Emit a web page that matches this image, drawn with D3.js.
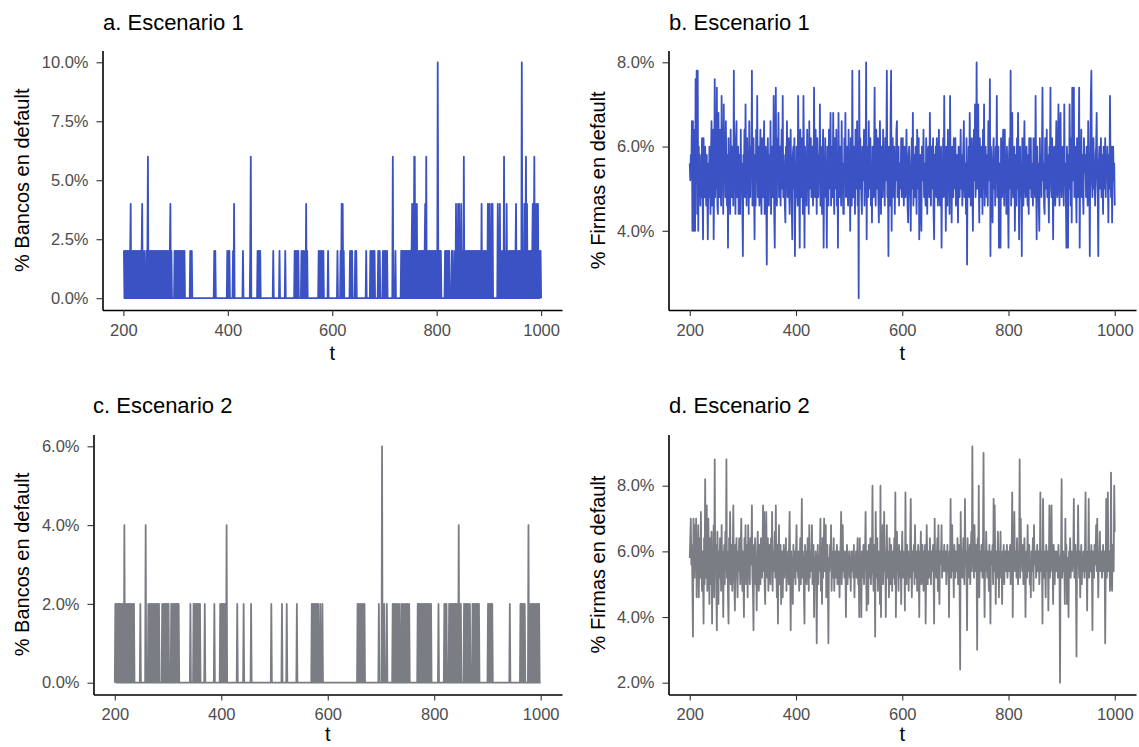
<!DOCTYPE html>
<html>
<head>
<meta charset="utf-8">
<script src="https://cdn.jsdelivr.net/npm/d3@7"></script>
<style>
body { margin: 0; background: #fff; }
text { font-family: "Liberation Sans", Arial, sans-serif; }
</style>
</head>
<body>
<div id="chart"></div>
<script>
// periods shown
var tStart = 200, tEnd = 1000;

// % banks in default, scenario 1 (only the periods with defaults; all others are 0)
var bancosA_t = [200,201,203,204,206,208,209,211,213,214,216,218,219,221,223,224,226,228,230,231,233,235,236,238,240,
    244,246,247,249,251,252,254,256,258,260,261,263,265,267,268,
    271,273,275,276,278,280,282,283,285,287,289,290,292,
    298,300,302,303,305,307,309,311,312,314,316,317,328,331,
    374,376,399,401,403,410,412,429,443,444,457,459,462,487,499,510,
    528,530,533,535,541,544,546,550,552,574,577,580,583,592,
    610,616,618,620,622,634,636,638,644,646,665,673,676,679,681,688,691,697,700,703,705,716,721,
    732,733,735,737,738,740,742,743,745,747,748,750,752,753,755,757,758,760,762,764,767,769,771,773,775,777,778,780,
    782,784,786,787,789,791,793,794,796,798,800,802,803,805,807,808,816,818,820,822,824,829,831,
    835,837,839,841,843,845,847,849,852,854,856,858,860,862,864,866,868,870,872,874,876,878,880,882,884,886,888,890,
    892,894,896,898,900,901,903,905,907,917,919,921,923,925,927,929,931,934,936,939,941,943,945,947,949,951,952,954,
    956,958,960,963,964,966,968,970,971,973,975,977,979,981,983,984,986,987,989,991,992,994,996,998,999];
var bancosA_v = [2,2,2,2,2,2,2,2,2,4,2,2,2,2,2,2,2,2,2,2,2,2,4,2,2,
    2,2,6,2,2,2,2,2,2,2,2,2,2,2,2,
    2,2,2,2,2,2,2,2,2,2,2,4,2,
    2,2,2,2,2,2,2,2,2,2,2,2,2,2,
    2,2,2,2,2,2,4,2,2,6,2,2,2,2,2,2,
    2,2,2,2,2,2,2,4,2,2,2,2,2,2,
    2,2,4,4,2,2,2,2,2,2,2,2,2,2,2,2,2,2,2,2,2,6,2,
    2,2,2,2,2,2,2,2,2,2,2,2,2,4,4,6,6,4,4,2,2,2,2,2,2,2,4,6,
    2,2,2,2,2,2,2,2,2,2,2,10,2,2,2,2,2,2,2,2,2,2,2,
    2,4,2,4,4,2,4,2,6,2,2,2,2,2,2,2,2,2,2,2,2,2,2,2,2,4,2,2,
    2,2,2,4,2,4,2,4,4,4,2,4,2,2,2,6,2,4,2,2,2,2,2,2,2,2,4,2,
    2,2,2,10,2,2,4,2,6,4,2,2,2,2,2,4,2,6,4,2,4,4,2,2,2];

// % banks in default, scenario 2
var bancosC_t = [201,202,204,206,207,209,211,213,215,216,218,220,222,224,226,228,230,232,234,236,248,258,
    263,265,268,270,272,275,277,279,281,283,289,291,293,295,297,299,301,306,308,310,312,314,316,318,320,
    342,348,350,352,354,356,358,360,369,387,398,400,403,405,407,410,430,442,456,494,514,523,542,
    570,572,574,576,578,580,582,586,590,656,658,661,664,666,669,696,702,706,711,
    722,725,728,731,734,738,741,744,747,750,753,769,771,773,775,777,779,781,783,785,787,789,791,794,
    808,819,821,823,828,830,832,834,836,838,840,842,844,846,848,850,856,858,860,862,864,867,
    872,874,876,878,880,882,884,901,903,905,907,909,942,962,964,966,968,970,
    977,979,981,983,985,987,989,991,993,995,997];
var bancosC_v = [2,2,2,2,2,2,2,2,2,2,4,2,2,2,2,2,2,2,2,2,2,4,
    2,2,2,2,2,2,2,2,2,2,2,2,2,2,2,2,2,2,2,2,2,2,2,2,2,
    2,2,2,2,2,2,2,2,2,2,2,2,2,2,2,4,2,2,2,2,2,2,2,
    2,2,2,2,2,2,2,2,2,2,2,2,2,2,2,2,6,2,2,
    2,2,2,2,2,2,2,2,2,2,2,2,2,2,2,2,2,2,2,2,2,2,2,2,
    2,2,2,2,2,2,2,2,2,2,2,2,2,4,2,2,2,2,2,2,2,2,
    2,2,2,2,2,2,2,2,2,2,2,2,2,2,2,2,2,2,
    4,2,2,2,2,2,2,2,2,2,2];

// % firms in default, scenario 1, t = 200..1000
var firmasB = [
    5.6,5.2,5.8,5.4,6.6,4.0,6.6,5.0,4.0,6.4, 4.0,7.6,5.2,7.8,4.4,7.8,4.0,6.0,5.0,5.8,
    4.6,5.6,4.8,6.2,5.0,3.8,6.2,5.4,4.8,6.0, 5.2,4.6,5.8,5.0,3.8,5.6,4.8,6.0,5.2,4.4,
    5.8,6.6,4.6,5.4,6.4,3.8,5.2,7.6,4.8,6.2, 5.0,7.4,4.6,4.4,6.8,5.6,4.8,6.4,5.2,4.6,
    7.2,5.0,5.8,4.4,7.0,5.4,6.0,4.8,6.6,5.2, 4.6,5.8,3.6,6.2,5.0,5.6,4.4,6.4,5.2,4.8,
    6.0,5.4,4.6,7.8,5.0,5.6,4.4,6.2,6.6,4.8, 5.4,6.0,4.4,5.8,5.2,4.4,6.4,5.0,5.6,4.6,
    3.4,5.8,5.2,6.4,4.8,7.0,5.4,4.6,6.2,5.0, 5.8,4.4,6.6,5.2,4.8,6.0,5.4,7.8,4.6,5.6,
    6.2,5.0,3.8,5.8,4.6,6.4,5.2,7.2,4.8,5.4, 6.0,4.6,5.6,6.4,5.0,4.4,6.2,5.4,4.8,5.8,
    6.6,4.4,5.2,6.0,4.8,3.2,5.6,6.2,5.0,4.6, 5.8,5.2,6.6,4.4,5.4,6.0,4.8,5.6,7.2,4.4,
    3.6,5.8,7.4,5.0,4.6,6.2,5.4,6.8,4.8,5.2, 6.0,4.6,5.6,6.4,5.0,7.2,4.8,5.8,5.2,4.6,
    4.2,6.0,5.4,6.6,4.8,5.6,6.2,5.0,4.4,5.8, 6.4,5.2,4.6,3.8,5.8,6.0,5.0,6.2,3.4,5.4,
    4.8,6.0,5.2,4.6,7.2,5.6,5.0,3.6,6.4,5.4, 4.8,6.2,5.2,4.4,7.2,5.8,3.6,6.0,5.0,5.6,
    4.6,6.4,5.2,5.8,4.4,6.6,5.0,5.4,6.2,4.8, 5.6,6.0,4.6,5.2,7.4,5.0,4.8,6.4,5.4,4.4,
    6.2,5.6,4.8,5.8,5.2,7.0,4.6,6.0,5.4,4.4, 5.8,6.4,3.6,5.6,5.0,6.2,4.8,5.4,3.6,6.0,
    5.2,4.6,6.4,5.0,5.8,6.8,4.6,5.4,6.0,4.8, 6.8,5.2,4.4,6.2,5.6,5.0,6.4,4.6,5.8,3.6,
    6.8,5.4,4.8,6.0,5.2,4.6,6.6,5.0,5.6,4.4, 4.4,6.2,5.4,6.8,4.8,5.6,6.0,5.0,4.6,6.4,
    5.2,5.8,4.0,6.2,5.0,4.6,7.8,5.4,4.8,6.0, 5.6,4.4,6.4,5.2,5.0,6.6,4.6,5.8,2.4,7.8,
    5.0,6.2,5.4,4.8,4.4,6.0,5.6,5.2,6.4,4.6, 5.8,5.2,8.0,3.8,6.0,5.4,4.8,6.6,5.0,5.6,
    6.2,4.6,5.4,4.2,6.0,5.2,4.8,5.8,7.4,5.0, 4.6,6.4,5.6,5.0,6.2,4.8,4.2,5.8,6.6,5.2,
    4.4,6.0,5.4,4.8,6.4,5.0,5.6,4.6,6.2,5.2, 5.8,7.8,4.8,5.4,3.4,6.0,5.2,4.6,6.6,7.8,
    4.0,5.6,6.2,5.0,4.8,6.0,4.4,5.8,5.2,6.4, 6.6,4.8,5.4,6.0,4.6,5.6,5.0,5.2,6.2,4.8,
    5.8,6.2,5.0,4.6,6.0,5.4,4.8,5.6,6.4,5.2, 4.6,4.2,5.8,6.0,5.2,4.8,4.0,5.6,6.2,5.0,
    6.8,4.6,5.4,5.8,4.8,6.0,5.2,4.4,6.4,5.6, 5.0,6.2,3.8,5.4,5.8,4.6,4.0,6.0,5.2,5.6,
    6.4,4.8,5.6,5.0,4.6,6.2,5.4,4.4,5.8,6.0, 5.2,4.8,6.8,5.4,4.6,6.0,5.0,5.6,6.2,4.4,
    3.8,5.8,5.2,6.0,4.8,6.2,5.4,4.6,5.6,6.4, 5.0,4.6,5.8,6.0,3.6,5.4,5.0,6.2,4.8,7.2,
    5.2,5.6,4.0,6.0,5.4,4.6,6.4,5.0,5.8,4.4, 7.2,5.2,5.6,4.2,6.0,5.4,4.8,6.2,5.0,5.6,
    6.2,4.6,5.4,5.8,5.0,4.2,6.0,5.2,4.8,5.6, 6.4,5.0,5.8,4.6,5.4,6.0,6.6,4.8,5.2,5.6,
    4.4,6.2,3.2,5.6,5.0,6.0,4.8,6.8,5.4,4.6, 5.8,6.2,5.0,4.0,5.6,6.4,5.2,7.0,4.8,5.4,
    8.0,5.0,5.6,7.0,5.2,4.2,6.2,5.4,4.8,6.0, 5.6,4.4,6.4,5.0,7.0,4.6,5.4,6.0,5.2,4.8,
    5.8,4.6,6.6,5.2,5.6,7.6,3.4,6.0,5.4,4.8, 4.2,5.8,6.2,5.0,5.6,4.6,6.0,5.2,7.2,4.8,
    5.4,6.0,3.6,5.6,5.0,3.6,6.2,5.4,4.8,5.8, 6.4,5.2,4.6,6.4,5.0,5.6,4.4,6.0,5.4,4.8,
    3.6,5.8,6.2,5.0,7.8,4.6,5.4,6.8,5.2,4.8, 5.6,6.0,4.0,5.4,5.8,4.6,6.2,5.0,6.8,5.2,
    3.8,5.6,6.0,4.8,5.4,3.4,6.2,5.0,4.6,5.8, 6.6,5.2,4.8,5.6,6.0,5.0,4.6,5.8,4.4,6.2,
    5.4,5.0,6.2,4.8,5.6,5.2,4.6,6.2,5.8,5.0, 4.8,7.2,5.4,3.8,6.0,5.2,5.6,4.6,4.0,6.2,
    5.0,5.8,4.8,6.0,7.4,5.2,5.6,4.6,4.4,6.2, 5.4,5.0,6.4,4.8,5.8,5.2,4.2,6.0,5.6,7.4,
    5.0,4.8,6.2,5.4,3.8,5.8,6.0,5.2,4.6,5.6, 6.6,5.0,4.8,5.6,7.0,5.4,4.6,6.2,6.8,5.2,
    4.8,5.8,6.0,5.4,4.6,7.0,5.2,5.6,4.8,3.6, 6.0,5.4,3.6,5.8,5.0,7.0,5.6,4.6,6.2,4.2,
    7.4,5.2,5.8,7.4,4.8,5.6,6.0,5.0,4.2,6.2, 5.4,4.8,6.0,7.4,3.6,5.6,5.2,6.4,4.8,5.8,
    5.0,4.4,6.2,5.4,5.8,5.6,4.8,6.0,5.2,4.6, 6.6,5.0,5.6,3.4,6.0,7.2,7.8,5.2,4.8,5.8,
    6.2,5.0,5.4,4.6,5.8,6.0,6.8,5.2,4.8,3.4, 5.6,6.0,5.0,5.4,6.2,4.8,5.8,5.2,4.4,6.0,
    5.4,5.0,6.2,4.8,5.6,5.4,6.0,5.2,4.2,5.8, 5.0,7.2,5.6,4.8,6.0,4.2,5.4,6.0,5.2,5.6,
    4.6];

// % firms in default, scenario 2, t = 200..1000
var firmasD = [
    5.8,6.4,7.0,5.6,6.2,5.0,3.4,7.0,6.0,5.2, 6.8,5.4,7.0,4.6,6.2,5.6,6.8,4.6,5.8,6.4,
    5.2,7.2,5.6,4.8,6.0,5.4,3.8,6.4,5.0,8.2, 5.8,5.2,7.4,4.8,6.2,7.0,5.6,4.4,6.4,5.0,
    5.8,6.6,3.8,6.0,5.2,6.8,4.6,8.8,5.4,6.2, 4.8,3.6,6.6,5.6,4.4,6.0,5.2,6.4,5.8,4.8,
    6.8,5.4,6.0,4.0,5.6,6.2,5.0,6.6,5.4,8.8, 5.2,6.0,4.6,3.8,6.4,5.8,7.2,5.0,5.6,6.2,
    4.8,6.0,7.4,5.4,5.0,4.2,6.2,5.6,6.4,5.2, 4.6,6.0,5.4,6.4,5.8,5.0,6.2,7.0,5.6,4.8,
    6.0,5.2,4.0,6.4,5.6,6.8,5.0,5.8,6.2,4.6, 6.8,5.4,5.8,5.0,6.4,5.6,6.0,7.4,5.2,4.8,
    3.6,6.2,5.6,6.4,5.0,5.8,4.2,6.0,6.6,5.4, 4.8,6.2,5.6,5.0,6.4,5.8,5.2,6.0,7.4,5.4,
    7.2,5.0,4.4,6.2,7.2,5.6,5.2,6.4,4.8,5.8, 6.2,5.4,5.0,6.4,5.6,7.2,4.8,6.0,5.4,5.8,
    6.6,5.2,7.4,5.6,4.6,6.2,3.8,5.8,6.8,5.0, 5.4,6.2,4.4,5.8,6.0,4.6,5.6,6.2,5.2,6.0,
    5.4,6.4,4.8,5.8,5.6,6.0,5.0,6.2,7.2,5.6, 3.6,6.0,5.4,5.8,4.4,6.2,5.2,6.0,5.6,5.0,
    6.0,6.8,5.4,5.8,5.2,6.0,4.8,5.6,6.4,5.0, 5.8,7.6,5.2,6.0,5.6,4.6,3.8,6.2,5.4,6.0,
    5.0,5.8,6.4,5.6,4.8,6.8,5.2,6.0,5.4,5.8, 6.8,5.0,5.6,6.2,4.0,5.8,5.4,6.0,5.2,3.2,
    5.6,6.2,5.0,5.8,5.4,6.0,7.0,4.8,5.6,4.4, 6.4,5.2,5.8,7.0,5.4,6.0,6.8,4.6,5.6,6.2,
    5.0,3.2,5.8,5.4,6.2,5.6,6.8,4.8,6.0,5.2, 5.6,6.4,4.8,5.8,6.0,5.2,5.4,6.2,5.0,5.8,
    6.0,5.4,4.6,5.8,6.2,7.2,5.0,5.6,6.8,5.4, 5.8,5.2,6.0,5.4,4.0,5.6,6.2,5.0,5.8,5.6,
    6.0,5.2,5.8,4.8,6.0,5.4,5.6,6.0,5.2,6.2, 4.6,5.8,5.4,6.0,5.2,5.8,6.4,5.0,5.6,4.0,
    6.4,5.4,5.8,4.0,6.0,5.2,5.6,6.2,5.0,5.8, 6.0,7.2,5.4,4.2,6.0,5.6,4.4,6.2,5.2,5.8,
    6.4,5.0,5.6,6.0,8.0,5.4,4.8,6.2,5.6,3.4, 7.2,5.8,5.2,6.4,4.8,6.0,5.4,5.8,4.4,8.0,
    4.0,6.2,5.6,6.8,5.0,5.8,7.2,5.4,6.0,4.0, 5.6,6.8,5.2,6.0,5.8,4.6,6.4,5.4,5.0,6.2,
    5.6,4.8,6.0,5.2,5.8,6.4,5.0,7.8,4.0,5.6, 6.6,5.4,5.8,4.8,6.2,5.6,5.2,6.0,4.4,5.8,
    6.6,5.2,6.0,5.4,5.8,4.2,7.8,5.6,5.0,6.2, 5.4,6.0,4.8,5.8,5.2,6.4,7.6,5.6,4.6,6.0,
    5.4,5.8,6.2,5.0,6.8,5.6,5.2,6.0,4.8,5.8, 6.2,5.4,4.0,6.0,5.6,6.6,5.0,5.8,6.2,5.4,
    4.8,6.0,5.6,6.2,3.8,5.4,6.8,5.8,5.0,6.0, 5.6,5.2,6.4,5.8,5.0,6.0,5.4,5.8,6.2,5.2,
    3.8,7.0,5.6,6.0,5.2,5.8,6.4,4.8,6.8,5.4, 4.4,6.0,5.6,5.8,6.8,5.2,6.0,5.4,5.8,6.2,
    5.4,5.8,6.0,5.0,5.6,6.2,5.4,5.8,4.0,6.0, 5.6,7.6,5.2,6.0,6.8,5.4,5.8,4.6,6.2,5.6,
    5.2,6.0,5.8,5.4,6.4,5.0,5.6,6.2,4.8,2.4, 7.2,5.6,6.0,5.2,5.8,6.4,5.4,5.0,7.6,5.8,
    6.0,5.4,3.6,6.4,5.6,5.8,5.2,6.2,5.0,5.8, 6.6,5.4,9.2,5.6,6.0,5.2,6.8,5.8,5.4,6.2,
    5.6,3.0,6.4,5.2,8.0,4.6,5.8,6.0,5.4,6.2, 5.8,5.2,6.4,9.0,5.6,4.0,6.0,5.4,6.6,5.8,
    5.2,6.0,5.6,4.8,6.2,5.4,3.8,6.0,5.6,5.8, 6.2,5.0,7.6,5.4,7.4,5.8,4.4,6.0,5.6,5.2,
    6.6,5.8,4.6,6.0,5.4,6.6,5.2,5.8,4.4,6.0, 5.6,6.2,5.0,5.8,6.0,5.4,5.8,6.2,5.2,5.6,
    6.0,5.4,5.8,6.2,5.0,5.6,6.0,7.8,4.0,6.2, 5.6,7.2,5.4,5.8,6.0,5.2,6.4,5.6,5.0,6.0,
    5.6,8.8,5.2,7.0,5.8,6.0,5.4,6.2,5.0,5.8, 6.4,5.6,4.0,5.8,6.0,5.2,6.8,5.4,5.8,6.2,
    5.0,5.6,4.6,6.0,5.4,5.8,6.4,4.8,6.8,5.6, 5.8,6.0,5.2,5.6,6.2,5.4,5.8,6.0,5.0,5.6,
    7.8,5.4,6.0,5.6,3.8,7.6,5.8,5.2,6.0,5.4, 4.6,6.2,5.8,5.4,6.0,4.2,5.6,7.4,5.2,5.8,
    6.0,7.4,5.4,5.6,4.4,6.2,5.8,5.0,6.0,5.6, 5.4,6.0,5.8,5.2,6.2,5.6,5.4,2.0,5.8,6.0,
    8.2,5.2,5.6,6.0,5.4,5.8,4.4,7.0,5.6,6.2, 4.4,5.8,5.4,4.0,6.0,5.6,6.4,5.2,5.8,6.0,
    5.4,5.8,6.0,7.6,5.2,5.6,6.2,5.0,2.8,6.0, 5.6,7.4,5.8,5.2,6.0,4.6,5.6,6.2,5.0,5.8,
    5.4,6.0,5.6,5.2,6.2,7.8,5.4,5.8,4.2,6.0, 5.6,7.6,5.2,5.8,6.0,5.4,6.2,5.6,3.6,6.0,
    5.8,5.2,6.2,5.6,6.0,6.8,5.4,7.0,5.8,4.6, 6.0,5.6,6.6,5.4,5.8,6.0,5.2,5.6,6.2,5.4,
    5.8,6.0,3.2,5.6,7.6,5.2,6.0,7.8,5.4,5.8, 6.0,4.8,5.6,8.4,5.2,4.8,6.2,5.8,5.4,8.0,
    6.6];

var blue = "#3b52c4", grey = "#7b7d84";

function sparseSeries(ts, vs) {
    var out = [];
    for (var t = tStart; t <= tEnd; t++) {
        var k = ts.indexOf(t);
        out.push({ t: t, v: k >= 0 ? vs[k] : 0 });
    }
    return out;
}
function denseSeries(vs) {
    return vs.map(function (v, i) { return { t: tStart + i, v: v }; });
}
// ggplot style 5% expansion on both sides
function expand(ext) {
    var pad = (ext[1] - ext[0]) * 0.05;
    return [ext[0] - pad, ext[1] + pad];
}

var panels = [
    { title: "a. Escenario 1", ylab: "% Bancos en default", color: blue,
      data: sparseSeries(bancosA_t, bancosA_v), yticks: [0, 2.5, 5, 7.5, 10],
      left: 102.5, right: 562, top: 50.5, bottom: 310, titleX: 103, titleY: 30, ylabX: 29, tGap: 50 },
    { title: "b. Escenario 1", ylab: "% Firmas en default", color: blue,
      data: denseSeries(firmasB), yticks: [4, 6, 8],
      left: 668.5, right: 1136, top: 50.5, bottom: 310, titleX: 669, titleY: 30, ylabX: 605, tGap: 50 },
    { title: "c. Escenario 2", ylab: "% Bancos en default", color: grey,
      data: sparseSeries(bancosC_t, bancosC_v), yticks: [0, 2, 4, 6],
      left: 93.5, right: 562, top: 434.5, bottom: 694.5, titleX: 93, titleY: 413, ylabX: 29, tGap: 46 },
    { title: "d. Escenario 2", ylab: "% Firmas en default", color: grey,
      data: denseSeries(firmasD), yticks: [2, 4, 6, 8],
      left: 668.5, right: 1136, top: 434.5, bottom: 694.5, titleX: 669, titleY: 413, ylabX: 605, tGap: 46 }
];

var svg = d3.select("#chart").append("svg")
    .attr("width", 1139)
    .attr("height", 747)
    .style("background", "#fff");

var pct = d3.format(".1f");

panels.forEach(function (p) {
    var x = d3.scaleLinear()
        .domain(expand(d3.extent(p.data, function (d) { return d.t; })))
        .range([p.left, p.right]);
    var y = d3.scaleLinear()
        .domain(expand(d3.extent(p.data, function (d) { return d.v; })))
        .range([p.bottom, p.top]);

    var line = d3.line()
        .x(function (d) { return x(d.t); })
        .y(function (d) { return y(d.v); });

    svg.append("path")
        .datum(p.data)
        .attr("d", line)
        .attr("fill", "none")
        .attr("stroke", p.color)
        .attr("stroke-width", 1.8)
        .attr("stroke-linejoin", "round");

    var xAxis = d3.axisBottom(x)
        .tickValues([200, 400, 600, 800, 1000])
        .tickFormat(d3.format("d"))
        .tickSize(6)
        .tickSizeOuter(0)
        .tickPadding(8);
    var yAxis = d3.axisLeft(y)
        .tickValues(p.yticks)
        .tickFormat(function (d) { return pct(d) + "%"; })
        .tickSize(6)
        .tickSizeOuter(0)
        .tickPadding(8);

    var gx = svg.append("g")
        .attr("transform", "translate(0," + p.bottom + ")")
        .call(xAxis);
    var gy = svg.append("g")
        .attr("transform", "translate(" + p.left + ",0)")
        .call(yAxis);

    [gx, gy].forEach(function (g) {
        g.select(".domain").attr("stroke", "#000").attr("stroke-width", 1.6);
        g.selectAll(".tick line").attr("stroke", "#333").attr("stroke-width", 1.1);
        g.selectAll(".tick text")
            .attr("fill", "#4d4d4d")
            .style("font-size", "16.5px")
            .style("font-family", "'Liberation Sans', Arial, sans-serif");
    });

    svg.append("text")
        .attr("x", p.titleX)
        .attr("y", p.titleY)
        .style("font-size", "22px")
        .attr("fill", "#000")
        .text(p.title);

    svg.append("text")
        .attr("x", (p.left + p.right) / 2)
        .attr("y", p.bottom + p.tGap)
        .attr("text-anchor", "middle")
        .style("font-size", "20px")
        .attr("fill", "#000")
        .text("t");

    svg.append("text")
        .attr("transform", "translate(" + p.ylabX + "," + ((p.top + p.bottom) / 2) + ") rotate(-90)")
        .attr("text-anchor", "middle")
        .style("font-size", "20px")
        .attr("fill", "#000")
        .text(p.ylab);
});
</script>
</body>
</html>
